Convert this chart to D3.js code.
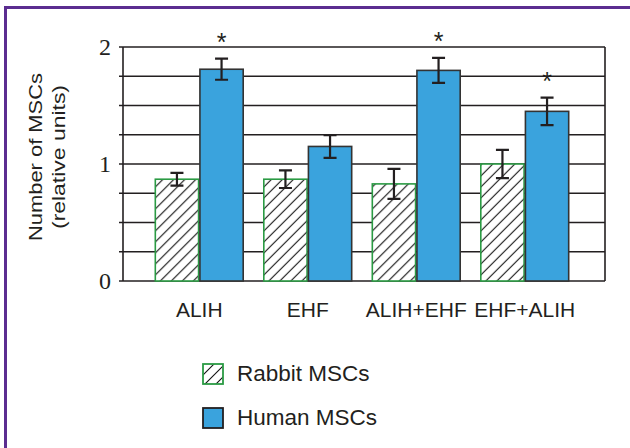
<!DOCTYPE html>
<html>
<head>
    <meta charset="utf-8">
    <title>Number of MSCs</title>
    <script src="https://d3js.org/d3.v7.min.js"></script>
    <style>
        body { margin: 0; background: #fff; }
        svg { display: block; }
    </style>
</head>
<body>
<div id="chart"></div>
<script type="text/javascript">

    // data
    let groups = ["ALIH", "EHF", "ALIH+EHF", "EHF+ALIH"];
    let series = ["Rabbit MSCs", "Human MSCs"];
    let rabbit = [0.87, 0.87, 0.83, 1.00];
    let rabbitErr = [0.054, 0.075, 0.128, 0.12];
    let human = [1.81, 1.15, 1.80, 1.45];
    let humanErr = [0.09, 0.097, 0.107, 0.117];
    let significant = [true, false, true, true];   // asterisk over human bar
    let yTicks = [0, 1, 2];

    let W = 630, H = 448;
    let plot = {left: 123, right: 605, top: 47, bottom: 281};

    let svg = d3.select("#chart")
        .append("svg")
        .attr("width", W)
        .attr("height", H);

    // hatch for rabbit bars
    let defs = svg.append("defs");
    let pat = defs.append("pattern")
        .attr("id", "hatch")
        .attr("patternUnits", "userSpaceOnUse")
        .attr("width", 11)
        .attr("height", 11);
    pat.append("rect").attr("width", 11).attr("height", 11).attr("fill", "#fff");
    pat.append("path")
        .attr("d", "M0,11 L11,0 M-3,3 L3,-3 M8,14 L14,8")
        .attr("stroke", "#111")
        .attr("stroke-width", 1.1);

    // purple frame (runs off right/bottom edge)
    svg.append("rect")
        .attr("x", 5.5).attr("y", 7.5)
        .attr("width", 700).attr("height", 600)
        .attr("fill", "none")
        .attr("stroke", "#5b2d90")
        .attr("stroke-width", 3);

    let yScale = d3.scaleLinear()
        .domain([0, 2])
        .range([plot.bottom, plot.top]);

    let xScale = d3.scaleBand()
        .domain(groups)
        .range([145, 579])
        .paddingInner(0.19)
        .paddingOuter(0.095);

    let xSub = d3.scaleBand()
        .domain(series)
        .range([0, xScale.bandwidth()])
        .paddingInner(0.03);

    // gridlines every 0.25
    let gridVals = d3.range(0, 2.001, 0.25);
    svg.append("g")
        .selectAll("line")
        .data(gridVals)
        .enter()
        .append("line")
        .attr("x1", plot.left - 4)
        .attr("x2", plot.right)
        .attr("y1", d => yScale(d))
        .attr("y2", d => yScale(d))
        .attr("stroke", "#231f20")
        .attr("stroke-width", 1.6);

    // left axis and right edge
    svg.append("line")
        .attr("x1", plot.left).attr("x2", plot.left)
        .attr("y1", plot.top).attr("y2", plot.bottom)
        .attr("stroke", "#231f20").attr("stroke-width", 1.6);
    svg.append("line")
        .attr("x1", plot.right).attr("x2", plot.right)
        .attr("y1", plot.top).attr("y2", plot.bottom)
        .attr("stroke", "#231f20").attr("stroke-width", 1.6);

    // y tick labels (serif)
    svg.append("g")
        .selectAll("text")
        .data(yTicks)
        .enter()
        .append("text")
        .attr("x", 111)
        .attr("y", d => yScale(d))
        .attr("dy", "0.35em")
        .attr("text-anchor", "end")
        .attr("font-family", "'Liberation Serif', 'Times New Roman', serif")
        .attr("font-size", "24px")
        .attr("fill", "#231f20")
        .text(d => d);

    // y title
    let yTitle = svg.append("text")
        .attr("transform", "translate(42,157) rotate(-90)")
        .attr("text-anchor", "middle")
        .attr("font-family", "'Liberation Sans', Arial, sans-serif")
        .attr("font-size", "19px")
        .attr("fill", "#231f20");
    yTitle.append("tspan").attr("x", 0).attr("y", 0)
        .attr("textLength", 168).attr("lengthAdjust", "spacingAndGlyphs")
        .text("Number of MSCs");
    yTitle.append("tspan").attr("x", 0).attr("y", 23)
        .attr("textLength", 144).attr("lengthAdjust", "spacingAndGlyphs")
        .text("(relative units)");

    // bars
    let rows = groups.map((g, i) => ({
        group: g,
        bars: [
            {s: series[0], v: rabbit[i], e: rabbitErr[i], star: false},
            {s: series[1], v: human[i], e: humanErr[i], star: significant[i]}
        ]
    }));

    let gGroup = svg.append("g")
        .selectAll("g")
        .data(rows)
        .enter()
        .append("g")
        .attr("transform", d => "translate(" + xScale(d.group) + ",0)");

    let bar = gGroup.selectAll("g")
        .data(d => d.bars)
        .enter()
        .append("g");

    bar.append("rect")
        .attr("x", d => xSub(d.s))
        .attr("y", d => yScale(d.v))
        .attr("width", xSub.bandwidth())
        .attr("height", d => yScale(0) - yScale(d.v))
        .attr("fill", d => d.s == series[0] ? "url(#hatch)" : "#3aa3dd")
        .attr("stroke", d => d.s == series[0] ? "#2b9b44" : "#333")
        .attr("stroke-width", 1.6);

    // error bars
    let cx = d => xSub(d.s) + xSub.bandwidth() / 2;
    bar.append("path")
        .attr("d", function(d) {
            let t = yScale(d.v + d.e), b = yScale(d.v - d.e), x = cx(d);
            return "M" + x + "," + t + "V" + b +
                "M" + (x - 6.5) + "," + t + "H" + (x + 6.5) +
                "M" + (x - 6.5) + "," + b + "H" + (x + 6.5);
        })
        .attr("fill", "none")
        .attr("stroke", "#231f20")
        .attr("stroke-width", 2.2);

    // significance marks
    bar.filter(d => d.star)
        .append("text")
        .attr("x", cx)
        .attr("y", d => yScale(d.v + d.e) - 8)
        .attr("text-anchor", "middle")
        .attr("font-family", "'Liberation Sans', Arial, sans-serif")
        .attr("font-size", "25px")
        .attr("fill", "#231f20")
        .text("*");

    // x labels
    svg.append("g")
        .selectAll("text")
        .data(groups)
        .enter()
        .append("text")
        .attr("x", d => xScale(d) + xScale.bandwidth() / 2)
        .attr("y", 317)
        .attr("text-anchor", "middle")
        .attr("font-family", "'Liberation Sans', Arial, sans-serif")
        .attr("font-size", "21px")
        .attr("fill", "#231f20")
        .text(d => d);

    // legend
    let legend = svg.append("g")
        .selectAll("g")
        .data(series)
        .enter()
        .append("g")
        .attr("transform", (d, i) => "translate(203," + (364 + i * 44) + ")");

    legend.append("rect")
        .attr("width", 20)
        .attr("height", 20)
        .attr("fill", (d, i) => i == 0 ? "url(#hatch)" : "#3aa3dd")
        .attr("stroke", (d, i) => i == 0 ? "#2b9b44" : "#231f20")
        .attr("stroke-width", 1.8);

    legend.append("text")
        .attr("x", 34)
        .attr("y", 17)
        .attr("font-family", "'Liberation Sans', Arial, sans-serif")
        .attr("font-size", "22.5px")
        .attr("fill", "#231f20")
        .text(d => d);

</script>
</body>
</html>
